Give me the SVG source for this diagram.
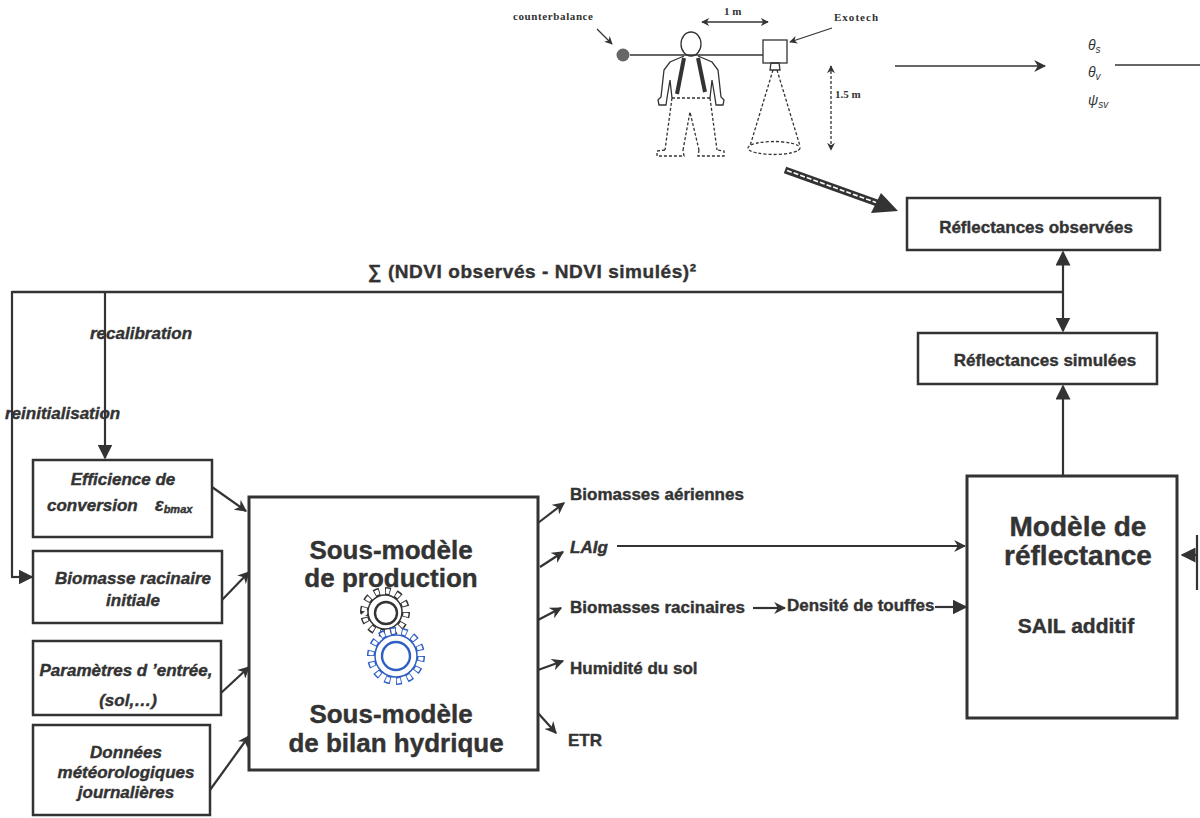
<svg xmlns="http://www.w3.org/2000/svg" width="1200" height="818" viewBox="0 0 1200 818">
  <style>
    .box { fill: #fff; stroke: #333; stroke-width: 2.5; }
    .bigbox { fill: #fff; stroke: #333; stroke-width: 3; }
    .ln { fill: none; stroke: #333; stroke-width: 2.2; }
    .thin { fill: none; stroke: #333; stroke-width: 1.3; }
    .dash { fill: none; stroke: #333; stroke-width: 1.3; stroke-dasharray: 3 2; }
    .t { font-family: "Liberation Sans", Arial, sans-serif; font-weight: bold; fill: #333; stroke: #333; stroke-width: 0.4; }
    .ti { font-family: "Liberation Sans", Arial, sans-serif; font-weight: bold; font-style: italic; fill: #333; stroke: #333; stroke-width: 0.4; }
    .sm { font-family: "Liberation Serif", "Times New Roman", serif; font-weight: bold; fill: #333; font-size: 11px; }
    .gr { font-family: "Liberation Sans", Arial, sans-serif; font-style: italic; fill: #333; font-size: 14px; }
  </style>
  <defs>
    <marker id="ah" viewBox="0 0 10 10" refX="9" refY="5" markerWidth="12" markerHeight="12" markerUnits="userSpaceOnUse" orient="auto">
      <path d="M0,0 L10,5 L0,10 L3,5 z" fill="#333"/>
    </marker>
    <marker id="ahL" viewBox="0 0 10 10" refX="9" refY="5" markerWidth="15" markerHeight="15" markerUnits="userSpaceOnUse" orient="auto-start-reverse">
      <path d="M0,0 L10,5 L0,10 z" fill="#333"/>
    </marker>
    <marker id="ahS" viewBox="0 0 10 10" refX="9" refY="5" markerWidth="8" markerHeight="8" markerUnits="userSpaceOnUse" orient="auto-start-reverse">
      <path d="M0,0 L10,5 L0,10 L3,5 z" fill="#333"/>
    </marker>
  </defs>

  <!-- field measurement sketch -->
  <g id="field-sketch">
    <text class="sm" x="513" y="20" textLength="80">counterbalance</text>
    <line class="thin" x1="597" y1="29" x2="612" y2="44" marker-end="url(#ahS)"/>
    <circle cx="623" cy="55" r="6.5" fill="#666"/>
    <line class="thin" x1="630" y1="55" x2="763" y2="55"/>
    <text class="sm" x="724" y="15">1 m</text>
    <line class="thin" x1="702" y1="22" x2="768" y2="22" marker-start="url(#ahS)" marker-end="url(#ahS)"/>
    <text class="sm" x="834" y="21" textLength="44">Exotech</text>
    <line class="thin" x1="832" y1="28" x2="790" y2="42" marker-end="url(#ahS)"/>
    <!-- radiometer and its field of view -->
    <rect x="763" y="40" width="24" height="23" class="thin" fill="#fff"/>
    <path d="M771,63 L779,63 L780,70 L770,70 z" class="thin"/>
    <line class="dash" x1="773" y1="70" x2="750" y2="146"/>
    <line class="dash" x1="777" y1="70" x2="800" y2="146"/>
    <ellipse cx="774" cy="148" rx="26" ry="6.5" class="dash"/>
    <!-- height marker -->
    <line class="dash" x1="831" y1="66" x2="831" y2="150" marker-start="url(#ahS)" marker-end="url(#ahS)"/>
    <text class="sm" x="835" y="98" font-size="9">1.5 m</text>
    <!-- operator -->
    <ellipse cx="691" cy="44" rx="10" ry="12" class="thin" fill="#fff"/>
    <path class="thin" d="M684,56 L670,62 L664,70 L661,97 L658,100 L659,105 L666,105 L667,98 L670,80 L672,98"/>
    <path class="thin" d="M698,56 L712,62 L718,70 L721,97 L724,100 L723,105 L716,105 L715,98 L712,80 L710,98"/>
    <line class="dash" x1="672" y1="98" x2="710" y2="98"/>
    <path class="dash" d="M672,98 L665,150 M683,150 L690,112 L699,150 M710,98 L717,150"/>
    <path class="dash" d="M665,150 L657,151 L657,156 L684,156 L683,150 M699,150 L698,156 L724,156 L724,151 L717,150"/>
    <line x1="684" y1="58" x2="677" y2="94" stroke="#333" stroke-width="4"/>
    <line x1="698" y1="58" x2="705" y2="92" stroke="#333" stroke-width="4"/>
  </g>

  <!-- viewing geometry -->
  <g id="angles">
    <line class="thin" x1="895" y1="66" x2="1045" y2="66" stroke-width="1.8" marker-end="url(#ah)"/>
    <text class="gr" x="1088" y="50">θ<tspan font-size="10" dy="3">s</tspan></text>
    <text class="gr" x="1088" y="77">θ<tspan font-size="10" dy="3">v</tspan></text>
    <text class="gr" x="1088" y="105">ψ<tspan font-size="10" dy="3">sv</tspan></text>
    <line class="thin" x1="1115" y1="65" x2="1200" y2="65" stroke-width="1.6"/>
  </g>

  <!-- nodes -->
  <g id="obs">
    <rect class="box" x="907" y="198" width="253" height="52" stroke-width="2"/>
    <text class="t" x="1036" y="233" font-size="17" text-anchor="middle">Réflectances observées</text>
  </g>
  <g id="sim">
    <rect class="box" x="918" y="333" width="239" height="51" stroke-width="2"/>
    <text class="t" x="1045" y="366" font-size="17" text-anchor="middle">Réflectances simulées</text>
  </g>
  <g id="reflectance-model">
    <rect class="bigbox" x="967" y="476" width="210" height="242"/>
    <text class="t" x="1078" y="536" font-size="28" text-anchor="middle">Modèle de</text>
    <text class="t" x="1078" y="565" font-size="28" text-anchor="middle">réflectance</text>
    <text class="t" x="1076" y="633" font-size="21" text-anchor="middle">SAIL additif</text>
  </g>
  <g id="crop-model">
    <rect class="bigbox" x="249" y="497" width="289" height="273"/>
    <text class="t" x="391" y="559" font-size="26" text-anchor="middle">Sous-modèle</text>
    <text class="t" x="391" y="587" font-size="26" text-anchor="middle">de production</text>
    <text class="t" x="391" y="723" font-size="26" text-anchor="middle">Sous-modèle</text>
    <text class="t" x="396" y="752" font-size="26" text-anchor="middle">de bilan hydrique</text>
    <!-- gears -->
    <g id="gear-dark">
      <circle cx="385" cy="612" r="21" fill="none" stroke="#333" stroke-width="8" pathLength="120" stroke-dasharray="5 5"/>
      <circle cx="385" cy="612" r="21" fill="none" stroke="#fff" stroke-width="5" pathLength="120" stroke-dasharray="3.4 6.6" stroke-dashoffset="-0.8"/>
      <circle cx="385" cy="612" r="17" fill="#fff" stroke="#333" stroke-width="1.5"/>
      <circle cx="386" cy="613" r="11" fill="none" stroke="#333" stroke-width="2.4"/>
    </g>
    <g id="gear-blue">
      <circle cx="396" cy="656" r="25" fill="none" stroke="#2f5fc4" stroke-width="8" pathLength="140" stroke-dasharray="5 5"/>
      <circle cx="396" cy="656" r="25" fill="none" stroke="#fff" stroke-width="5" pathLength="140" stroke-dasharray="3.4 6.6" stroke-dashoffset="-0.8"/>
      <circle cx="396" cy="656" r="21" fill="#fff" stroke="#2f5fc4" stroke-width="1.5"/>
      <circle cx="396" cy="656" r="14" fill="none" stroke="#2f5fc4" stroke-width="2.4"/>
    </g>
  </g>
  <g id="efficience">
    <rect class="box" x="33" y="460" width="179" height="77"/>
    <text class="ti" x="123" y="485" font-size="17" text-anchor="middle">Efficience de</text>
    <text class="ti" x="47" y="511" font-size="17">conversion</text>
    <text class="ti" x="155" y="511" font-size="18">ε<tspan font-size="11" dy="2">bmax</tspan></text>
  </g>
  <g id="biomasse-init">
    <rect class="box" x="33" y="551" width="189" height="72"/>
    <text class="ti" x="133" y="584" font-size="17" text-anchor="middle">Biomasse racinaire</text>
    <text class="ti" x="133" y="606" font-size="17" text-anchor="middle">initiale</text>
  </g>
  <g id="parametres">
    <rect class="box" x="33" y="641" width="188" height="74"/>
    <text class="ti" x="126" y="676" font-size="17" text-anchor="middle">Paramètres d ’entrée,</text>
    <text class="ti" x="128" y="706" font-size="17" text-anchor="middle">(sol,…)</text>
  </g>
  <g id="meteo">
    <rect class="box" x="33" y="725" width="177" height="90"/>
    <text class="ti" x="126" y="758" font-size="17" text-anchor="middle">Données</text>
    <text class="ti" x="126" y="778" font-size="17" text-anchor="middle">météorologiques</text>
    <text class="ti" x="126" y="798" font-size="17" text-anchor="middle">journalières</text>
  </g>

  <!-- output labels -->
  <g id="outputs">
    <text class="t" x="570" y="500" font-size="17">Biomasses aériennes</text>
    <text class="ti" x="570" y="553" font-size="17">LAIg</text>
    <text class="t" x="570" y="613" font-size="17">Biomasses racinaires</text>
    <text class="t" x="787" y="611" font-size="17">Densité de touffes</text>
    <text class="t" x="570" y="674" font-size="17">Humidité du sol</text>
    <text class="t" x="568" y="746" font-size="17">ETR</text>
  </g>

  <!-- feedback labels -->
  <g id="feedback-labels">
    <text class="t" x="368" y="278" font-size="19" textLength="328">∑ (NDVI observés - NDVI simulés)²</text>
    <text class="ti" x="90" y="339" font-size="17">recalibration</text>
    <text class="ti" x="5" y="419" font-size="17">reinitialisation</text>
  </g>

  <!-- connectors -->
  <g id="connectors">
    <!-- sketch to observed reflectances -->
    <line x1="785" y1="170" x2="880" y2="204" stroke="#333" stroke-width="7"/>
    <line x1="787" y1="170.5" x2="876" y2="202.5" stroke="#fff" stroke-width="1.6" stroke-dasharray="5 2"/>
    <path d="M898,211 L871,213 L881,193 z" fill="#333"/>

    <!-- comparison and feedback loop -->
    <line class="ln" x1="1063" y1="252" x2="1063" y2="331" marker-start="url(#ahL)" marker-end="url(#ahL)"/>
    <line x1="12" y1="292" x2="1063" y2="292" stroke="#333" stroke-width="2.5"/>
    <line class="ln" x1="12" y1="291" x2="12" y2="577"/>
    <line class="ln" x1="11" y1="577" x2="32" y2="577" marker-end="url(#ahL)"/>
    <line class="ln" x1="105" y1="292" x2="105" y2="458" marker-end="url(#ahL)"/>

    <!-- reflectance model to simulated reflectances -->
    <line class="ln" x1="1063" y1="475" x2="1063" y2="386" marker-end="url(#ahL)"/>

    <!-- inputs -->
    <line class="ln" x1="212" y1="487" x2="246" y2="511" marker-end="url(#ah)"/>
    <line class="ln" x1="222" y1="600" x2="249" y2="572" marker-end="url(#ah)"/>
    <line class="ln" x1="221" y1="693" x2="249" y2="667" marker-end="url(#ah)"/>
    <line class="ln" x1="210" y1="790" x2="249" y2="736" marker-end="url(#ah)"/>

    <!-- outputs -->
    <line class="ln" x1="538" y1="523" x2="564" y2="503" marker-end="url(#ah)"/>
    <line class="ln" x1="540" y1="567" x2="563" y2="552" marker-end="url(#ah)"/>
    <line class="ln" x1="538" y1="620" x2="561" y2="608" marker-end="url(#ah)"/>
    <line class="ln" x1="538" y1="670" x2="563" y2="661" marker-end="url(#ah)"/>
    <line class="ln" x1="538" y1="713" x2="556" y2="733" marker-end="url(#ah)"/>

    <!-- into reflectance model -->
    <line class="ln" x1="617" y1="546" x2="965" y2="546" marker-end="url(#ah)"/>
    <line class="ln" x1="753" y1="608" x2="785" y2="608" marker-end="url(#ah)"/>
    <line class="ln" x1="935" y1="607" x2="966" y2="607" marker-end="url(#ahL)"/>
    <line class="ln" x1="1197" y1="535" x2="1197" y2="590"/>
    <line class="ln" x1="1197" y1="555" x2="1182" y2="555" marker-end="url(#ahL)"/>
  </g>
</svg>
